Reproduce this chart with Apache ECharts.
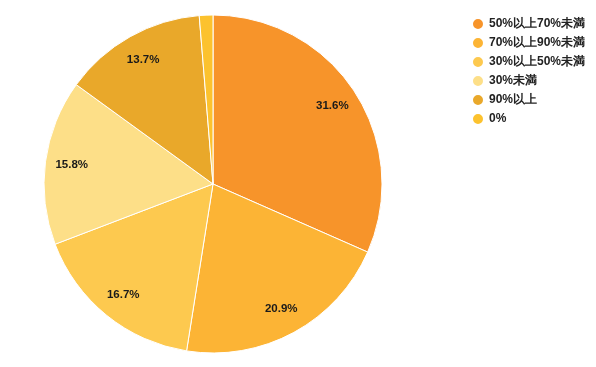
<!DOCTYPE html>
<html><head><meta charset="utf-8">
<script src="https://cdn.jsdelivr.net/npm/echarts@6/dist/echarts.min.js"></script>
<style>html,body{margin:0;padding:0;background:#fff}#c{width:596px;height:367px}</style>
</head><body><div id="c"></div>
<script>
const categories = ['50%以上70%未満','70%以上90%未満','30%以上50%未満','30%未満','90%以上','0%'];
const values = [31.6, 20.9, 16.7, 15.8, 13.7, 1.3];
const colors = ['#F7942A','#FCB435','#FDC94F','#FDDF88','#E9A82A','#FCC22E'];
const font = '"Liberation Sans", Arial, sans-serif';
const data = categories.map((n,i)=>({name:n,value:values[i],itemStyle:{color:colors[i]}}));
const chart = echarts.init(document.getElementById('c'));
chart.setOption({
  animation:false,
  legend:{orient:'vertical',left:466,top:12,padding:5,icon:'circle',itemWidth:12,itemHeight:12,itemGap:5,
    textStyle:{fontFamily:font,fontWeight:'bold',fontSize:12,color:'#222'},data:categories},
  series:[
    {type:'pie',center:[213,184],radius:[0,169],startAngle:90,clockwise:true,
     data:data,label:{show:false},labelLine:{show:false},
     itemStyle:{borderColor:'#fff',borderWidth:1}},
    {type:'pie',center:[213,184],radius:[110,169],startAngle:90,clockwise:true,silent:true,
     data:categories.map((n,i)=>({name:n,value:values[i],itemStyle:{color:'transparent'},
       label:{show:values[i]>=5}})),
     itemStyle:{color:'transparent',borderWidth:0},
     label:{position:'inside',formatter:p=>p.value.toFixed(1)+'%',fontFamily:font,fontWeight:'bold',fontSize:11.5,color:'#1a1a1a'},
     labelLine:{show:false},emphasis:{disabled:true}}
  ]
});
</script></body></html>
